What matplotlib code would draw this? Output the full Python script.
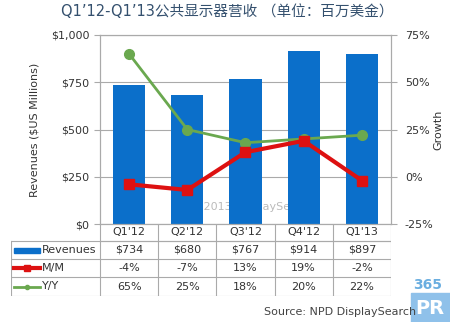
import numpy as np
import matplotlib.pyplot as plt
from matplotlib.patches import Rectangle

plt.rcParams['font.family'] = ['DejaVu Sans', 'Noto Sans CJK SC']

# --- data ---
quarters = ["Q1'12", "Q2'12", "Q3'12", "Q4'12", "Q1'13"]
revenues = [734, 680, 767, 914, 897]
mm = [-4, -7, 13, 19, -2]
yy = [65, 25, 18, 20, 22]

BLUE = "#0b6fca"
RED = "#dd1111"
GREEN = "#6aa84f"
GRID = "#aaaaaa"
TXT = "#333333"

W, H = 450, 322
fig = plt.figure(figsize=(4.5, 3.22), dpi=100)

def px(x0, y0, x1, y1):
    return [x0 / W, 1 - y1 / H, (x1 - x0) / W, (y1 - y0) / H]

# --- main chart ---
ax = fig.add_axes(px(100, 35, 391, 224))
x = np.arange(len(quarters))
ax.bar(x, revenues, width=0.55, color=BLUE, zorder=2)
ax.set_xlim(-0.5, len(quarters) - 0.5)
ax.set_ylim(0, 1000)
ax.set_yticks([0, 250, 500, 750, 1000])
ax.set_yticklabels(["$0", "$250", "$500", "$750", "$1,000"])
ax.set_xticks([])
ax.grid(axis="y", color=GRID, lw=0.8, zorder=0)
for s in ax.spines.values():
    s.set_color(GRID)
    s.set_linewidth(0.8)
ax.tick_params(axis="y", colors=GRID, labelcolor=TXT, labelsize=8, length=4)
ax.set_ylabel("Revenues ($US Millions)", fontsize=8, color=TXT, labelpad=8)
ax.text(2.1, 90, "© 2013 DisplaySearch", color="#bbbbbb", fontsize=8,
        ha="center", va="center", zorder=1)

ax2 = ax.twinx()
ax2.set_ylim(-25, 75)
ax2.set_yticks([-25, 0, 25, 50, 75])
ax2.set_yticklabels(["-25%", "0%", "25%", "50%", "75%"])
ax2.tick_params(axis="y", colors=GRID, labelcolor=TXT, labelsize=8, length=4,
                pad=6)
for s in ax2.spines.values():
    s.set_color(GRID)
    s.set_linewidth(0.8)
ax2.set_ylabel("Growth", fontsize=8, color=TXT, labelpad=0)
ax2.plot(x, yy, color=GREEN, lw=2, marker="o", ms=7, zorder=3)
ax2.plot(x, mm, color=RED, lw=3, marker="s", ms=7, zorder=4)

fig.text(227 / W, 1 - 12 / H, "Q1’12-Q1’13公共显示器营收 （单位：百万美金）",
         ha="center", va="center", fontsize=10.5, color="#34506e",
         family=["DejaVu Sans", "Noto Sans CJK SC"])

# --- data table below ---
tab = fig.add_axes(px(11, 224, 391, 296))
ppu = (391 - 100) / len(quarters)
x_left = -0.5 - (100 - 11) / ppu
tab.set_xlim(x_left, len(quarters) - 0.5)
tab.set_ylim(0, 72)
tab.axis("off")
rows_y = [72, 55, 37, 19, 0]
tab.plot([-0.5, len(quarters) - 0.5], [rows_y[1]] * 2, color=GRID, lw=0.8)
for ry in rows_y[1:]:
    tab.plot([x_left, len(quarters) - 0.5], [ry, ry], color=GRID, lw=0.8)
tab.plot([x_left, x_left], [0, rows_y[1]], color=GRID, lw=0.8)
for i in range(len(quarters) + 1):
    tab.plot([i - 0.5, i - 0.5], [0, 72], color=GRID, lw=0.8)

row_vals = [
    ["$%d" % v for v in revenues],
    ["%d%%" % v for v in mm],
    ["%d%%" % v for v in yy],
]
for i, q in enumerate(quarters):
    tab.text(i, (rows_y[0] + rows_y[1]) / 2, q, ha="center", va="center",
             fontsize=8, color=TXT)
    for r, vals in enumerate(row_vals):
        tab.text(i, (rows_y[r + 1] + rows_y[r + 2]) / 2, vals[i],
                 ha="center", va="center", fontsize=8, color=TXT)

names = ["Revenues", "M/M", "Y/Y"]
key_x0 = x_left + 0.05
key_x1 = x_left + 0.5
for r, n in enumerate(names):
    cy = (rows_y[r + 1] + rows_y[r + 2]) / 2
    if r == 0:
        tab.add_patch(Rectangle((key_x0, cy - 2.5), key_x1 - key_x0, 5, color=BLUE))
    else:
        c = RED if r == 1 else GREEN
        tab.plot([key_x0, key_x1], [cy, cy], color=c, lw=3 if r == 1 else 2)
        tab.plot([(key_x0 + key_x1) / 2], [cy], color=c,
                 marker="s" if r == 1 else "o", ms=4 if r == 1 else 3)
    tab.text(key_x1 + 0.03, cy, n, ha="left", va="center", fontsize=8, color=TXT)

fig.text(340 / W, 1 - 312 / H, "Source: NPD DisplaySearch", ha="center",
         va="center", fontsize=8, color="#444444")

# 365PR badge
fig.text(428 / W, 1 - 285 / H, "365", ha="center", va="center", fontsize=10,
         fontweight="bold", color="#6aaee0")
fig.patches.append(Rectangle((411 / W, 0), 39 / W, 29 / H, color="#8fc1ea",
                             transform=fig.transFigure, figure=fig))
fig.text(430 / W, 1 - 308 / H, "PR", ha="center", va="center", fontsize=14,
         fontweight="bold", color="white")

fig.savefig("out.png", dpi=100)
